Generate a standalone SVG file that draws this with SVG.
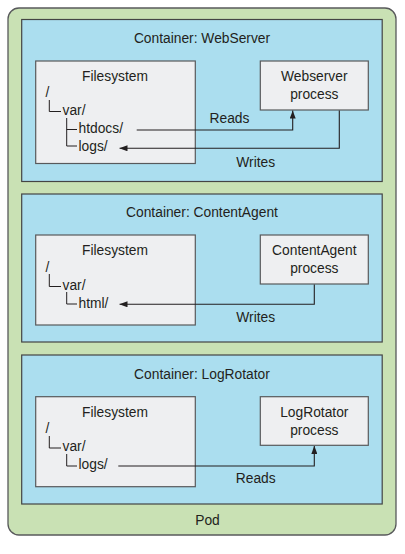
<svg xmlns="http://www.w3.org/2000/svg" width="405" height="554" viewBox="0 0 405 554">
<style>
text{font-family:"Liberation Sans",Arial,sans-serif;font-size:13.8px;fill:#231f20}
.c{text-anchor:middle}
.pod{fill:#c9e1b4;stroke:#58595b;stroke-width:1.3}
.ctr{fill:#abdeef;stroke:#444;stroke-width:1.2}
.box{fill:#eeeff1;stroke:#58595b;stroke-width:1.2}
.tree{fill:none;stroke:#231f20;stroke-width:1}
.con{fill:none;stroke:#231f20;stroke-width:1.1}
</style>
<defs>
<marker id="ah" viewBox="0 0 8 6" refX="8" refY="3" markerWidth="8" markerHeight="6" markerUnits="userSpaceOnUse" orient="auto">
<path d="M0,0 L8,3 L0,6 Z" fill="#231f20"/>
</marker>
</defs>
<g id="pod">
<rect class="pod" x="8" y="8" width="388" height="527" rx="11"/>
<text class="c" x="207.5" y="525">Pod</text>
</g>
<g id="container-webserver">
<rect class="ctr" x="21.7" y="19.5" width="360.5" height="162"/>
<text class="c" x="202" y="43">Container: WebServer</text>
</g>
<g id="fs-webserver">
<rect class="box" x="35.7" y="61" width="159.6" height="102.5"/>
<text class="c" x="115" y="81">Filesystem</text>
<text x="45.5" y="97">/</text>
<text x="62.5" y="115">var/</text>
<text x="78.5" y="133">htdocs/</text>
<text x="78.5" y="151">logs/</text>
<path class="tree" d="M49.3,100 V111.5 H61 M66.7,118 V146 H77 M66.7,129.5 H77"/>
</g>
<g id="webserver-process">
<rect class="box" x="260.3" y="61" width="108" height="49"/>
<text class="c" x="314.3" y="81">Webserver</text>
<text class="c" x="314.3" y="99">process</text>
</g>
<g id="container-contentagent">
<rect class="ctr" x="21.7" y="194" width="360.5" height="148"/>
<text class="c" x="202" y="216.5">Container: ContentAgent</text>
</g>
<g id="fs-contentagent">
<rect class="box" x="35.7" y="235" width="159.6" height="90"/>
<text class="c" x="115" y="255">Filesystem</text>
<text x="45.5" y="271.5">/</text>
<text x="62.5" y="289.5">var/</text>
<text x="78.5" y="307.5">html/</text>
<path class="tree" d="M49.3,274 V286.5 H61 M66.7,292 V304 H77"/>
</g>
<g id="contentagent-process">
<rect class="box" x="260.3" y="235" width="108" height="49"/>
<text class="c" x="314.3" y="254.5">ContentAgent</text>
<text class="c" x="314.3" y="272.5">process</text>
</g>
<g id="container-logrotator">
<rect class="ctr" x="21.7" y="355" width="360.5" height="149"/>
<text class="c" x="202" y="378.5">Container: LogRotator</text>
</g>
<g id="fs-logrotator">
<rect class="box" x="35.7" y="396.7" width="159.6" height="90"/>
<text class="c" x="115" y="416.5">Filesystem</text>
<text x="45.5" y="433">/</text>
<text x="62.5" y="451">var/</text>
<text x="78.5" y="469">logs/</text>
<path class="tree" d="M49.3,436 V448 H61 M66.7,454 V466 H77"/>
</g>
<g id="logrotator-process">
<rect class="box" x="260.3" y="396.7" width="108" height="48.6"/>
<text class="c" x="314.3" y="416.5">LogRotator</text>
<text class="c" x="314.3" y="434.5">process</text>
</g>
<g id="connectors">
<path class="con" d="M136.7,130 H292.7 V110.6" marker-end="url(#ah)"/>
<text class="c" x="229.5" y="123">Reads</text>
<path class="con" d="M339.3,110.6 V148.3 H119.5" marker-end="url(#ah)"/>
<text class="c" x="255.7" y="166.5">Writes</text>
<path class="con" d="M314.3,284.6 V304.3 H119.5" marker-end="url(#ah)"/>
<text class="c" x="255.7" y="322">Writes</text>
<path class="con" d="M118.3,466 H314.3 V445.9" marker-end="url(#ah)"/>
<text class="c" x="255.7" y="483">Reads</text>
</g>
</svg>
